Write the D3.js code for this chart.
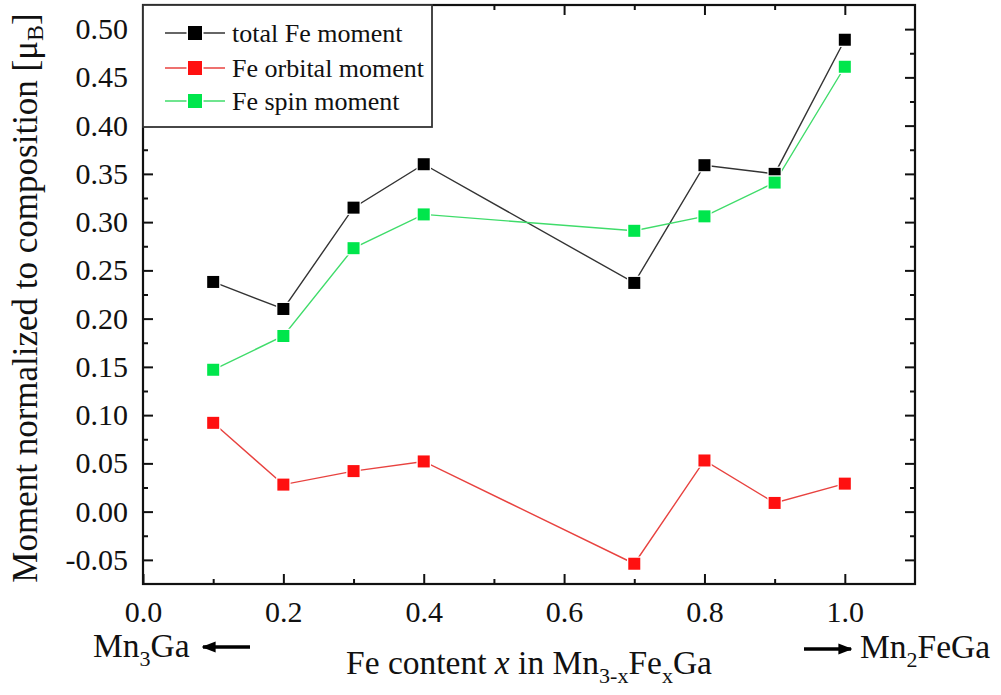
<!DOCTYPE html>
<html>
<head>
<meta charset="utf-8">
<script src="https://cdn.jsdelivr.net/npm/d3@7"></script>
<style>
  body { margin: 0; background: #fff; }
</style>
</head>
<body>
<div id="chart"></div>
<script>
// ---- data ----
const xValues = [0.1, 0.2, 0.3, 0.4, 0.7, 0.8, 0.9, 1.0];
const totalMoment = [0.238, 0.210, 0.315, 0.360, 0.237, 0.359, 0.350, 0.489];
const orbitalMoment = [0.092, 0.028, 0.042, 0.052, -0.054, 0.053, 0.009, 0.029];
const spinMoment = [0.147, 0.182, 0.273, 0.308, 0.291, 0.306, 0.341, 0.461];

const seriesNames = ["total Fe moment", "Fe orbital moment", "Fe spin moment"];
const xMajorTicks = [0.0, 0.2, 0.4, 0.6, 0.8, 1.0];
const xMinorTicks = [0.1, 0.3, 0.5, 0.7, 0.9];
const yMajorTicks = [-0.05, 0.00, 0.05, 0.10, 0.15, 0.20, 0.25, 0.30, 0.35, 0.40, 0.45, 0.50];
const yMinorTicks = [-0.025, 0.025, 0.075, 0.125, 0.175, 0.225, 0.275, 0.325, 0.375, 0.425, 0.475];

const FONT = "'Liberation Serif', 'DejaVu Serif', 'Times New Roman', serif";

// ---- layout ----
const W = 1001, H = 695;
const margin = { top: 5, right: 86, bottom: 111, left: 143 };
const width = W - margin.left - margin.right;
const height = H - margin.top - margin.bottom;

const svg = d3.select("#chart").append("svg")
  .attr("width", W).attr("height", H);

const g = svg.append("g")
  .attr("transform", `translate(${margin.left},${margin.top})`);

const x = d3.scaleLinear().domain([0, 1.1]).range([0, width]);
const y = d3.scaleLinear().domain([-0.075, 0.525]).range([height, 0]);

const series = [
  { name: seriesNames[0], values: totalMoment, line: "#333333", fill: "#000000" },
  { name: seriesNames[1], values: orbitalMoment, line: "#e8423f", fill: "#ff1010" },
  { name: seriesNames[2], values: spinMoment, line: "#3fdc6a", fill: "#00e64c" }
];

// ---- axes (ticks inward, on all four sides) ----
const axisColor = "#111";
function styleAxis(sel) {
  sel.attr("font-family", null).attr("font-size", null);
  sel.select(".domain").remove();
  sel.selectAll(".tick line").attr("stroke", axisColor).attr("stroke-width", 2);
  sel.selectAll(".tick text").attr("fill", "#111").style("font-size", "30px");
}

g.append("g").attr("transform", `translate(0,${height})`)
  .call(d3.axisBottom(x).tickValues(xMajorTicks).tickSizeInner(-10).tickSizeOuter(0)
    .tickPadding(17).tickFormat(d3.format(".1f")))
  .call(styleAxis);
g.append("g").attr("transform", `translate(0,${height})`)
  .call(d3.axisBottom(x).tickValues(xMinorTicks).tickSizeInner(-5).tickSizeOuter(0).tickFormat(""))
  .call(styleAxis);
g.append("g")
  .call(d3.axisTop(x).tickValues(xMajorTicks).tickSizeInner(-10).tickSizeOuter(0).tickFormat(""))
  .call(styleAxis);
g.append("g")
  .call(d3.axisTop(x).tickValues(xMinorTicks).tickSizeInner(-5).tickSizeOuter(0).tickFormat(""))
  .call(styleAxis);

g.append("g")
  .call(d3.axisLeft(y).tickValues(yMajorTicks).tickSizeInner(-10).tickSizeOuter(0)
    .tickPadding(15).tickFormat(d => d.toFixed(2)))
  .call(styleAxis);
g.append("g")
  .call(d3.axisLeft(y).tickValues(yMinorTicks).tickSizeInner(-5).tickSizeOuter(0).tickFormat(""))
  .call(styleAxis);
g.append("g").attr("transform", `translate(${width},0)`)
  .call(d3.axisRight(y).tickValues(yMajorTicks).tickSizeInner(-10).tickSizeOuter(0).tickFormat(""))
  .call(styleAxis);
g.append("g").attr("transform", `translate(${width},0)`)
  .call(d3.axisRight(y).tickValues(yMinorTicks).tickSizeInner(-5).tickSizeOuter(0).tickFormat(""))
  .call(styleAxis);

// frame
g.append("rect")
  .attr("width", width).attr("height", height)
  .attr("fill", "none").attr("stroke", axisColor).attr("stroke-width", 2.2);

// ---- lines & markers ----
const line = d3.line().x(d => x(d[0])).y(d => y(d[1]));
const ms = 12;

series.forEach(s => {
  const pts = xValues.map((v, i) => [v, s.values[i]]);
  g.append("path")
    .datum(pts)
    .attr("fill", "none")
    .attr("stroke", s.line)
    .attr("stroke-width", 1.4)
    .attr("d", line);
});
series.forEach(s => {
  const pts = xValues.map((v, i) => [v, s.values[i]]);
  g.selectAll(null)
    .data(pts)
    .enter().append("rect")
    .attr("x", d => x(d[0]) - ms / 2)
    .attr("y", d => y(d[1]) - ms / 2)
    .attr("width", ms).attr("height", ms)
    .attr("fill", s.fill)
    .attr("stroke", "#fff")
    .attr("stroke-width", 2.5)
    .attr("paint-order", "stroke");
});

// ---- legend ----
const legend = g.append("g");
legend.append("rect")
  .attr("x", 0).attr("y", 0)
  .attr("width", 289).attr("height", 122)
  .attr("fill", "#fff").attr("stroke", "#333").attr("stroke-width", 1.8);

const legendRows = [28, 63, 96];
series.forEach((s, i) => {
  const row = legend.append("g").attr("transform", `translate(0,${legendRows[i]})`);
  row.append("line").attr("x1", 22).attr("x2", 82).attr("y1", 0).attr("y2", 0)
    .attr("stroke", s.line).attr("stroke-width", 1.4);
  row.append("rect")
    .attr("x", 52 - 7).attr("y", -7).attr("width", 14).attr("height", 14)
    .attr("fill", s.fill).attr("stroke", "#fff").attr("stroke-width", 3)
    .attr("paint-order", "stroke");
  row.append("text")
    .attr("x", 89).attr("y", 0).attr("dy", "0.33em")
    .style("font-size", "26px").attr("fill", "#111")
    .text(s.name);
});

// ---- axis titles ----
const yTitle = svg.append("text")
  .attr("transform", `translate(37,298) rotate(-90)`)
  .attr("text-anchor", "middle")
  .style("font-size", "35px").attr("fill", "#111");
yTitle.append("tspan").text("Moment normalized to composition [μ");
yTitle.append("tspan").attr("dy", 6).style("font-size", "24px").text("B");
yTitle.append("tspan").attr("dy", -6).text("]");

const xTitle = svg.append("text")
  .attr("x", margin.left + width / 2).attr("y", 674)
  .attr("text-anchor", "middle")
  .style("font-size", "33.5px").attr("fill", "#111");
xTitle.append("tspan").text("Fe content ");
xTitle.append("tspan").style("font-style", "italic").text("x");
xTitle.append("tspan").text(" in Mn");
xTitle.append("tspan").attr("dy", 9).style("font-size", "22px").text("3-x");
xTitle.append("tspan").attr("dy", -9).text("Fe");
xTitle.append("tspan").attr("dy", 9).style("font-size", "22px").text("x");
xTitle.append("tspan").attr("dy", -9).text("Ga");

// end labels with arrows
const leftLab = svg.append("text")
  .attr("x", 93).attr("y", 657)
  .style("font-size", "33.5px").attr("fill", "#111");
leftLab.append("tspan").text("Mn");
leftLab.append("tspan").attr("dy", 9).style("font-size", "22px").text("3");
leftLab.append("tspan").attr("dy", -9).text("Ga");

const rightLab = svg.append("text")
  .attr("x", 860).attr("y", 658)
  .style("font-size", "33.5px").attr("fill", "#111");
rightLab.append("tspan").text("Mn");
rightLab.append("tspan").attr("dy", 9).style("font-size", "22px").text("2");
rightLab.append("tspan").attr("dy", -9).text("FeGa");

const defs = svg.append("defs");
defs.append("marker")
  .attr("id", "arrowhead")
  .attr("viewBox", "0 0 10 10")
  .attr("refX", 9).attr("refY", 5)
  .attr("markerWidth", 4).attr("markerHeight", 4)
  .attr("markerUnits", "strokeWidth")
  .attr("orient", "auto")
  .append("path").attr("d", "M0,1 L10,5 L0,9 Z").attr("fill", "#000");

svg.append("line")
  .attr("x1", 250).attr("x2", 203).attr("y1", 647).attr("y2", 647)
  .attr("stroke", "#000").attr("stroke-width", 3.5)
  .attr("marker-end", "url(#arrowhead)");
svg.append("line")
  .attr("x1", 804).attr("x2", 851).attr("y1", 649).attr("y2", 649)
  .attr("stroke", "#000").attr("stroke-width", 3.5)
  .attr("marker-end", "url(#arrowhead)");

// serif font everywhere
svg.selectAll("text").style("font-family", FONT);
</script>
</body>
</html>
